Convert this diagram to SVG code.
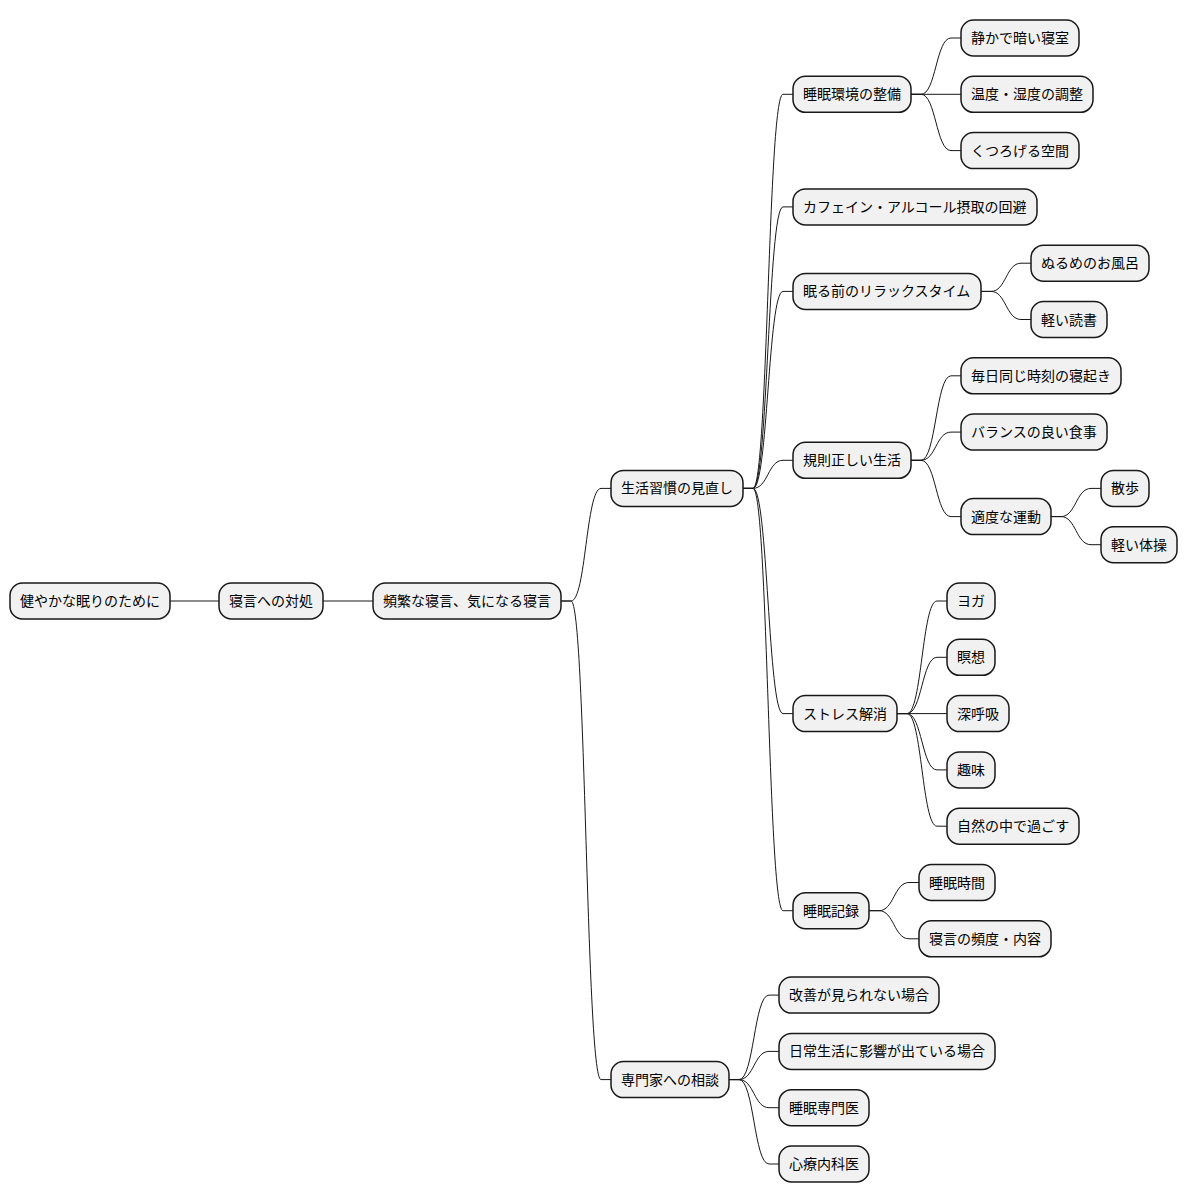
<svg xmlns="http://www.w3.org/2000/svg" width="1188" height="1203" viewBox="0 0 1188 1203">
<style>
.n rect{fill:#F1F1F1;stroke:#181818;stroke-width:1.5}
.n text{font-family:"Noto Sans CJK JP","Noto Sans",sans-serif;font-size:14px;fill:#000}
#edges path{fill:none;stroke:#181818;stroke-width:1}
</style>
<rect width="1188" height="1203" fill="#FFFFFF"/>
<g id="edges">
<path d="M170,601 H219"/>
<path d="M323,601 H373"/>
<path d="M561,601 H571 C586,601 586,488.4 601,488.4 H611"/>
<path d="M561,601 H571 C586,601 586,1079.6 601,1079.6 H611"/>
<path d="M743,488.4 H753 C768,488.4 768,94.3 783,94.3 H793"/>
<path d="M743,488.4 H753 C768,488.4 768,206.9 783,206.9 H793"/>
<path d="M743,488.4 H753 C768,488.4 768,291.4 783,291.4 H793"/>
<path d="M743,488.4 H753 C768,488.4 768,460.3 783,460.3 H793"/>
<path d="M743,488.4 H753 C768,488.4 768,713.6 783,713.6 H793"/>
<path d="M743,488.4 H753 C768,488.4 768,910.7 783,910.7 H793"/>
<path d="M911,94.3 H921 C936,94.3 936,38 951,38 H961"/>
<path d="M911,94.3 H961"/>
<path d="M911,94.3 H921 C936,94.3 936,150.6 951,150.6 H961"/>
<path d="M981,291.4 H991 C1006,291.4 1006,263.2 1021,263.2 H1031"/>
<path d="M981,291.4 H991 C1006,291.4 1006,319.5 1021,319.5 H1031"/>
<path d="M911,460.3 H921 C936,460.3 936,375.8 951,375.8 H961"/>
<path d="M911,460.3 H921 C936,460.3 936,432.1 951,432.1 H961"/>
<path d="M911,460.3 H921 C936,460.3 936,516.6 951,516.6 H961"/>
<path d="M1051,516.6 H1061 C1076,516.6 1076,488.4 1091,488.4 H1101"/>
<path d="M1051,516.6 H1061 C1076,516.6 1076,544.7 1091,544.7 H1101"/>
<path d="M897,713.6 H907 C922,713.6 922,601 937,601 H947"/>
<path d="M897,713.6 H907 C922,713.6 922,657.3 937,657.3 H947"/>
<path d="M897,713.6 H947"/>
<path d="M897,713.6 H907 C922,713.6 922,769.9 937,769.9 H947"/>
<path d="M897,713.6 H907 C922,713.6 922,826.2 937,826.2 H947"/>
<path d="M869,910.7 H879 C894,910.7 894,882.5 909,882.5 H919"/>
<path d="M869,910.7 H879 C894,910.7 894,938.8 909,938.8 H919"/>
<path d="M729,1079.6 H739 C754,1079.6 754,995.1 769,995.1 H779"/>
<path d="M729,1079.6 H739 C754,1079.6 754,1051.4 769,1051.4 H779"/>
<path d="M729,1079.6 H739 C754,1079.6 754,1107.7 769,1107.7 H779"/>
<path d="M729,1079.6 H739 C754,1079.6 754,1164 769,1164 H779"/>
</g>
<g id="n1" class="n"><rect x="10" y="583" width="160" height="36" rx="12.5"/><text x="20" y="606">健やかな眠りのために</text></g>
<g id="n2" class="n"><rect x="219" y="583" width="104" height="36" rx="12.5"/><text x="229" y="606">寝言への対処</text></g>
<g id="n3" class="n"><rect x="373" y="583" width="188" height="36" rx="12.5"/><text x="383" y="606">頻繁な寝言、気になる寝言</text></g>
<g id="n4" class="n"><rect x="611" y="470.4" width="132" height="36" rx="12.5"/><text x="621" y="493.4">生活習慣の見直し</text></g>
<g id="n5" class="n"><rect x="793" y="76.3" width="118" height="36" rx="12.5"/><text x="803" y="99.3">睡眠環境の整備</text></g>
<g id="n6" class="n"><rect x="961" y="20" width="118" height="36" rx="12.5"/><text x="971" y="43">静かで暗い寝室</text></g>
<g id="n7" class="n"><rect x="961" y="76.3" width="132" height="36" rx="12.5"/><text x="971" y="99.3">温度・湿度の調整</text></g>
<g id="n8" class="n"><rect x="961" y="132.6" width="118" height="36" rx="12.5"/><text x="971" y="155.6">くつろげる空間</text></g>
<g id="n9" class="n"><rect x="793" y="188.9" width="244" height="36" rx="12.5"/><text x="803" y="211.9">カフェイン・アルコール摂取の回避</text></g>
<g id="n10" class="n"><rect x="793" y="273.4" width="188" height="36" rx="12.5"/><text x="803" y="296.4">眠る前のリラックスタイム</text></g>
<g id="n11" class="n"><rect x="1031" y="245.2" width="118" height="36" rx="12.5"/><text x="1041" y="268.2">ぬるめのお風呂</text></g>
<g id="n12" class="n"><rect x="1031" y="301.5" width="76" height="36" rx="12.5"/><text x="1041" y="324.5">軽い読書</text></g>
<g id="n13" class="n"><rect x="793" y="442.3" width="118" height="36" rx="12.5"/><text x="803" y="465.3">規則正しい生活</text></g>
<g id="n14" class="n"><rect x="961" y="357.8" width="160" height="36" rx="12.5"/><text x="971" y="380.8">毎日同じ時刻の寝起き</text></g>
<g id="n15" class="n"><rect x="961" y="414.1" width="146" height="36" rx="12.5"/><text x="971" y="437.1">バランスの良い食事</text></g>
<g id="n16" class="n"><rect x="961" y="498.6" width="90" height="36" rx="12.5"/><text x="971" y="521.6">適度な運動</text></g>
<g id="n17" class="n"><rect x="1101" y="470.4" width="48" height="36" rx="12.5"/><text x="1111" y="493.4">散歩</text></g>
<g id="n18" class="n"><rect x="1101" y="526.7" width="76" height="36" rx="12.5"/><text x="1111" y="549.7">軽い体操</text></g>
<g id="n19" class="n"><rect x="793" y="695.6" width="104" height="36" rx="12.5"/><text x="803" y="718.6">ストレス解消</text></g>
<g id="n20" class="n"><rect x="947" y="583" width="48" height="36" rx="12.5"/><text x="957" y="606">ヨガ</text></g>
<g id="n21" class="n"><rect x="947" y="639.3" width="48" height="36" rx="12.5"/><text x="957" y="662.3">瞑想</text></g>
<g id="n22" class="n"><rect x="947" y="695.6" width="62" height="36" rx="12.5"/><text x="957" y="718.6">深呼吸</text></g>
<g id="n23" class="n"><rect x="947" y="751.9" width="48" height="36" rx="12.5"/><text x="957" y="774.9">趣味</text></g>
<g id="n24" class="n"><rect x="947" y="808.2" width="132" height="36" rx="12.5"/><text x="957" y="831.2">自然の中で過ごす</text></g>
<g id="n25" class="n"><rect x="793" y="892.7" width="76" height="36" rx="12.5"/><text x="803" y="915.7">睡眠記録</text></g>
<g id="n26" class="n"><rect x="919" y="864.5" width="76" height="36" rx="12.5"/><text x="929" y="887.5">睡眠時間</text></g>
<g id="n27" class="n"><rect x="919" y="920.8" width="132" height="36" rx="12.5"/><text x="929" y="943.8">寝言の頻度・内容</text></g>
<g id="n28" class="n"><rect x="611" y="1061.6" width="118" height="36" rx="12.5"/><text x="621" y="1084.6">専門家への相談</text></g>
<g id="n29" class="n"><rect x="779" y="977.1" width="160" height="36" rx="12.5"/><text x="789" y="1000.1">改善が見られない場合</text></g>
<g id="n30" class="n"><rect x="779" y="1033.4" width="216" height="36" rx="12.5"/><text x="789" y="1056.4">日常生活に影響が出ている場合</text></g>
<g id="n31" class="n"><rect x="779" y="1089.7" width="90" height="36" rx="12.5"/><text x="789" y="1112.7">睡眠専門医</text></g>
<g id="n32" class="n"><rect x="779" y="1146" width="90" height="36" rx="12.5"/><text x="789" y="1169">心療内科医</text></g>
</svg>
